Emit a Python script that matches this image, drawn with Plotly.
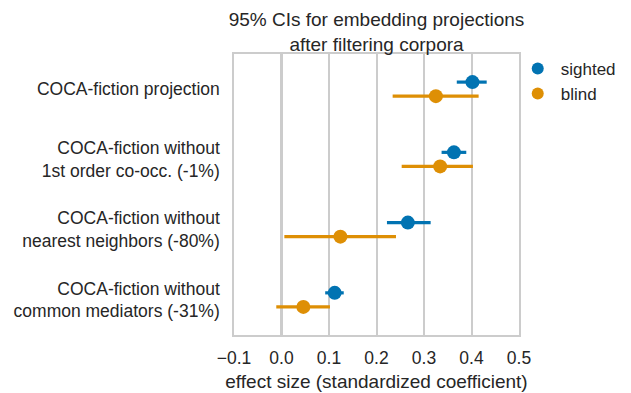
import plotly.graph_objects as go

categories = [
    "COCA-fiction projection",
    "COCA-fiction without<br>1st order co-occ. (-1%)",
    "COCA-fiction without<br>nearest neighbors (-80%)",
    "COCA-fiction without<br>common mediators (-31%)",
]
sighted_est = [0.402, 0.363, 0.266, 0.112]
sighted_lo = [0.369, 0.337, 0.222, 0.092]
sighted_hi = [0.432, 0.389, 0.314, 0.131]
blind_est = [0.325, 0.334, 0.124, 0.046]
blind_lo = [0.234, 0.253, 0.006, -0.011]
blind_hi = [0.415, 0.403, 0.241, 0.102]
x_ticks = [-0.1, 0.0, 0.1, 0.2, 0.3, 0.4, 0.5]
x_ticktext = ["\u22120.1", "0.0", "0.1", "0.2", "0.3", "0.4", "0.5"]

FONT = "Liberation Sans, Arial, sans-serif"
TXT = "#262626"
FS_TICK = 17.5
FS_LABEL = 19
pos = list(range(len(categories)))
dodge = 0.1

series = [
    ("sighted", sighted_est, sighted_lo, sighted_hi, "#0173b2", -dodge),
    ("blind", blind_est, blind_lo, blind_hi, "#de8f05", dodge),
]

fig = go.Figure()
for name, est, lo, hi, color, off in series:
    fig.add_trace(go.Scatter(
        x=est,
        y=[p + off for p in pos],
        mode="markers",
        name=name,
        marker=dict(color=color, size=14, line=dict(width=0)),
        error_x=dict(
            type="data", symmetric=False,
            array=[h - e for h, e in zip(hi, est)],
            arrayminus=[e - l for e, l in zip(est, lo)],
            color=color, thickness=3.2, width=0,
        ),
    ))

fig.update_layout(
    template="none",
    width=631, height=393,
    margin=dict(l=226, r=120, t=46, b=66, autoexpand=False),
    paper_bgcolor="white", plot_bgcolor="white",
    font=dict(family=FONT, size=FS_TICK, color=TXT),
    title=dict(
        text="95% CIs for embedding projections<br>after filtering corpora",
        x=0.5, xref="paper", xanchor="center",
        y=1, yref="paper", yanchor="bottom", pad=dict(b=28, t=0, l=0, r=0),
        font=dict(size=FS_LABEL, color=TXT),
    ),
    legend=dict(
        x=0.985, y=1.011, xanchor="left", yanchor="top",
        font=dict(size=17, color=TXT),
        bgcolor="rgba(0,0,0,0)", itemsizing="constant",
        itemwidth=36, tracegroupgap=0,
    ),
    showlegend=True,
)
fig.update_xaxes(
    range=[-0.1, 0.5], tickvals=x_ticks, ticktext=x_ticktext,
    showgrid=True, gridcolor="#cccccc", gridwidth=1.5,
    zeroline=True, zerolinecolor="#cccccc", zerolinewidth=3,
    showline=True, linecolor="#cccccc", linewidth=1.5, mirror=True,
    ticks="", tickfont=dict(size=FS_TICK, color=TXT), automargin=False,
    ticklabelstandoff=6,
    title=dict(text="effect size (standardized coefficient)", font=dict(size=FS_LABEL, color=TXT), standoff=8),
)
fig.update_yaxes(
    range=[3.5, -0.5], tickvals=pos, ticktext=categories,
    showgrid=False, zeroline=False,
    showline=True, linecolor="#cccccc", linewidth=1.5, mirror=True,
    ticks="", tickfont=dict(size=FS_TICK, color=TXT), ticklabelstandoff=9,
    automargin=False,
)

fig.write_html("out.html")
